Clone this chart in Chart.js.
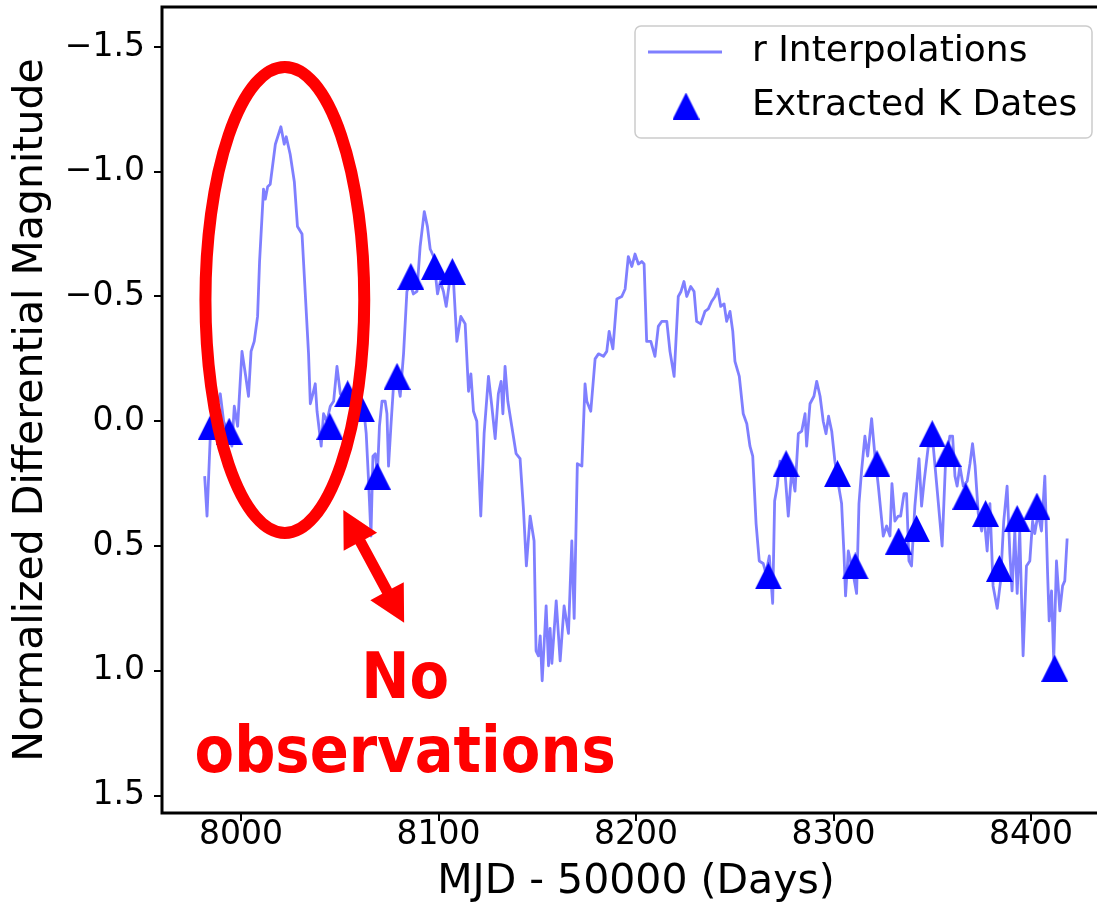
<!DOCTYPE html>
<html>
<head>
<meta charset="utf-8">
<title>r Interpolations vs Extracted K Dates</title>
<script src="https://cdn.jsdelivr.net/npm/chart.js@4.4.0/dist/chart.umd.min.js"></script>
<style>
  html, body { margin: 0; padding: 0; background: #fff; overflow: hidden; }
  #wrap { width: 1097px; height: 905px; overflow: hidden; position: relative; }
  canvas { display: block; }
</style>
</head>
<body>
<div id="wrap"><canvas id="chart" width="1115" height="905"></canvas></div>
<script>
// Datos
const lineDays = [
  7981.6, 7982.8, 7984.5, 7989.5, 7991.2, 7993.7, 7995.4, 7996.6, 7998.3, 8000.5,
  8002.2, 8003.8, 8005.1, 8006.7, 8008.4, 8009.4, 8011.4, 8012.3, 8013.5, 8014.8,
  8017.4, 8020.2, 8021.9, 8022.9, 8024.9, 8027.0, 8028.6, 8030.9, 8032.0, 8034.2,
  8035.1, 8036.4, 8037.6, 8038.5, 8040.6, 8041.8, 8043.5, 8045.2, 8046.9, 8048.6,
  8050.3, 8053.6, 8057.8, 8062.0, 8063.4, 8064.6, 8065.8, 8066.8, 8068.0, 8069.1,
  8070.1, 8071.4, 8073.0, 8073.9, 8074.7, 8075.9, 8077.2, 8078.9, 8080.6, 8082.3,
  8084.0, 8085.7, 8087.3, 8089.1, 8090.7, 8092.8, 8094.4, 8095.8, 8097.5, 8099.5,
  8100.9, 8102.5, 8103.9, 8105.6, 8107.6, 8109.3, 8111.3, 8113.5, 8115.2, 8116.4,
  8117.7, 8119.4, 8121.4, 8123.1, 8125.3, 8127.0, 8128.7, 8130.3, 8131.7, 8132.6,
  8133.7, 8135.1, 8137.1, 8139.3, 8141.3, 8143.0, 8144.5, 8146.4, 8148.4, 8149.4,
  8150.6, 8151.5, 8152.5, 8154.5, 8155.7, 8156.5, 8157.4, 8159.6, 8161.6, 8163.6,
  8165.8, 8167.5, 8168.7, 8170.3, 8172.6, 8174.2, 8175.1, 8177.1, 8179.3, 8181.0,
  8183.5, 8185.2, 8186.4, 8188.3, 8190.3, 8192.8, 8194.5, 8196.1, 8197.9, 8199.5,
  8201.2, 8202.9, 8204.1, 8205.4, 8207.5, 8209.6, 8211.3, 8213.0, 8215.6, 8217.2,
  8219.3, 8221.4, 8222.8, 8224.3, 8225.7, 8227.7, 8229.4, 8230.7, 8232.8, 8234.9,
  8236.6, 8238.3, 8240.0, 8241.4, 8242.9, 8244.6, 8245.9, 8247.6, 8249.0, 8250.1,
  8252.3, 8254.3, 8256.1, 8257.7, 8259.1, 8260.8, 8262.4, 8264.4, 8265.8, 8267.5,
  8269.2, 8270.2, 8271.5, 8272.9, 8275.4, 8277.1, 8278.8, 8280.5, 8282.2, 8283.9,
  8285.6, 8286.4, 8288.1, 8290.1, 8291.5, 8293.2, 8294.8, 8296.2, 8297.5, 8299.1,
  8300.7, 8302.4, 8304.1, 8305.3, 8306.1, 8307.5, 8309.7, 8311.7, 8312.9, 8314.2,
  8315.9, 8317.3, 8319.3, 8321.0, 8322.7, 8325.2, 8326.9, 8328.6, 8329.6, 8331.1,
  8332.8, 8334.0, 8335.7, 8337.0, 8338.2, 8339.5, 8341.2, 8343.3, 8344.6, 8345.9,
  8348.0, 8350.5, 8353.0, 8355.0, 8356.7, 8358.9, 8360.3, 8361.5, 8362.6, 8364.0,
  8365.7, 8367.7, 8369.1, 8370.4, 8371.7, 8373.3, 8375.0, 8376.1, 8377.8, 8379.2,
  8380.8, 8382.9, 8384.6, 8386.2, 8387.9, 8389.3, 8390.4, 8391.8, 8393.0, 8394.3,
  8396.0, 8397.7, 8399.4, 8400.8, 8401.9, 8403.6, 8405.3, 8407.0, 8408.4, 8409.2,
  8410.4, 8411.5, 8412.9, 8414.6, 8416.0, 8417.1, 8418.3
];
const lineMags = [
  0.22, 0.38, 0.05, -0.11, 0.00, 0.05, 0.10, -0.06, 0.02, -0.28,
  -0.19, -0.10, -0.28, -0.32, -0.42, -0.64, -0.93, -0.89, -0.94, -0.95,
  -1.11, -1.18, -1.11, -1.14, -1.07, -0.96, -0.78, -0.75, -0.59, -0.27,
  -0.07, -0.11, -0.15, -0.04, 0.10, -0.03, 0.00, -0.06, -0.08, -0.22,
  -0.11, -0.08, -0.04, -0.06, 0.05, 0.24, 0.46, 0.14, 0.13, 0.21,
  0.02, -0.08, -0.08, -0.03, 0.18, 0.02, -0.14, -0.18, -0.10, -0.27,
  -0.52, -0.55, -0.51, -0.52, -0.70, -0.84, -0.78, -0.69, -0.66, -0.51,
  -0.56, -0.52, -0.46, -0.56, -0.56, -0.32, -0.42, -0.39, -0.12, -0.19,
  -0.04, 0.00, 0.38, 0.05, -0.18, -0.06, 0.07, -0.11, -0.16, -0.03,
  -0.22, -0.08, 0.02, 0.13, 0.15, 0.35, 0.58, 0.38, 0.48, 0.92,
  0.94, 0.86, 1.04, 0.74, 0.98, 0.83, 0.97, 0.72, 0.96, 0.74,
  0.85, 0.48, 0.79, 0.17, 0.18, -0.15, -0.08, -0.04, -0.25, -0.27,
  -0.26, -0.28, -0.36, -0.29, -0.49, -0.50, -0.53, -0.66, -0.62, -0.67,
  -0.63, -0.64, -0.63, -0.32, -0.32, -0.26, -0.38, -0.40, -0.40, -0.28,
  -0.18, -0.50, -0.52, -0.56, -0.50, -0.54, -0.52, -0.40, -0.39, -0.44,
  -0.45, -0.48, -0.50, -0.53, -0.46, -0.47, -0.40, -0.44, -0.36, -0.24,
  -0.18, -0.03, 0.01, 0.10, 0.14, 0.41, 0.56, 0.57, 0.61, 0.54,
  0.73, 0.32, 0.26, 0.16, 0.20, 0.38, 0.20, 0.28, 0.05, 0.04,
  -0.03, 0.10, -0.07, -0.10, -0.16, -0.10, 0.00, 0.05, -0.02, 0.04,
  0.16, 0.25, 0.33, 0.53, 0.70, 0.52, 0.60, 0.69, 0.33, 0.20,
  0.06, 0.14, -0.01, 0.14, 0.26, 0.46, 0.42, 0.46, 0.25, 0.40,
  0.38, 0.38, 0.29, 0.29, 0.56, 0.58, 0.34, 0.15, 0.34, 0.24,
  0.10, 0.10, 0.32, 0.50, 0.17, 0.06, 0.06, 0.22, 0.26, 0.18,
  0.26, 0.24, 0.17, 0.09, 0.18, 0.37, 0.44, 0.37, 0.52, 0.33,
  0.66, 0.75, 0.64, 0.40, 0.26, 0.53, 0.68, 0.44, 0.69, 0.44,
  0.94, 0.58, 0.56, 0.40, 0.45, 0.37, 0.44, 0.22, 0.61, 0.80,
  0.68, 0.96, 0.56, 0.76, 0.66, 0.64, 0.47
];

const kDays = [
  7985, 7994, 8045, 8054, 8061, 8069, 8079, 8086, 8098, 8107,
  8267, 8276, 8302, 8311, 8322, 8333, 8342, 8350, 8358, 8367,
  8377, 8384, 8393, 8403, 8412
];
const kMags = [
  0.02, 0.04, 0.02, -0.11, -0.05, 0.22, -0.18, -0.58, -0.62, -0.60,
  0.62, 0.17, 0.21, 0.58, 0.17, 0.48, 0.43, 0.05, 0.13, 0.30,
  0.37, 0.59, 0.39, 0.34, 0.99
];

const xTicks = [8000, 8100, 8200, 8300, 8400];
const yTicks = [-1.5, -1.0, -0.5, 0.0, 0.5, 1.0, 1.5];

const X_MIN = 7960;
const X_MAX = 8440;
const Y_MIN = -1.66;
const Y_MAX = 1.57;

const LINE_COLOR = "rgba(0, 0, 255, 0.5)";
const MARKER_COLOR = "#0000ff";
const ANNOT_COLOR = "#ff0000";
const FONT = "DejaVu Sans";

// Triángulo tipo matplotlib '^' (ancho = alto, centrado en la caja)
function makeTriangle(size, color) {
  const c = document.createElement("canvas");
  c.width = size;
  c.height = size;
  const g = c.getContext("2d");
  g.fillStyle = color;
  g.beginPath();
  g.moveTo(size / 2, 0);
  g.lineTo(size, size);
  g.lineTo(0, size);
  g.closePath();
  g.fill();
  return c;
}
const triangle = makeTriangle(27, MARKER_COLOR);

function drawDoubleArrow(ctx, x1, y1, x2, y2, shaft, headLen, headW) {
  const dx = x2 - x1, dy = y2 - y1;
  const len = Math.hypot(dx, dy);
  const ux = dx / len, uy = dy / len;
  const nx = -uy, ny = ux;
  const p = (bx, by, along, side) => [bx + ux * along + nx * side, by + uy * along + ny * side];
  const pts = [
    [x1, y1],
    p(x1, y1, headLen, headW / 2),
    p(x1, y1, headLen, shaft / 2),
    p(x2, y2, -headLen, shaft / 2),
    p(x2, y2, -headLen, headW / 2),
    [x2, y2],
    p(x2, y2, -headLen, -headW / 2),
    p(x2, y2, -headLen, -shaft / 2),
    p(x1, y1, headLen, -shaft / 2),
    p(x1, y1, headLen, -headW / 2),
  ];
  ctx.beginPath();
  ctx.moveTo(pts[0][0], pts[0][1]);
  for (let i = 1; i < pts.length; i++) ctx.lineTo(pts[i][0], pts[i][1]);
  ctx.closePath();
  ctx.fill();
}

// Marco, anotaciones en rojo y leyenda dentro del área
const overlay = {
  id: "overlay",
  afterDatasetsDraw(chart) {
    const { ctx, chartArea: a, scales: { x, y } } = chart;
    ctx.save();

    // marco
    ctx.strokeStyle = "#000";
    ctx.lineWidth = 3;
    ctx.strokeRect(a.left, a.top, a.right - a.left, a.bottom - a.top);

    // elipse
    const cx = x.getPixelForValue(8022.2);
    const cy = y.getPixelForValue(-0.486);
    const rx = x.getPixelForValue(8022.2 + 40.2) - cx;
    const ry = Math.abs(y.getPixelForValue(-0.486 + 0.934) - cy);
    ctx.strokeStyle = ANNOT_COLOR;
    ctx.lineWidth = 12;
    ctx.beginPath();
    ctx.ellipse(cx, cy, rx, ry, 0, 0, Math.PI * 2);
    ctx.stroke();

    // flecha doble
    ctx.fillStyle = ANNOT_COLOR;
    drawDoubleArrow(
      ctx,
      x.getPixelForValue(8051.8), y.getPixelForValue(0.356),
      x.getPixelForValue(8082.6), y.getPixelForValue(0.808),
      11, 36, 38
    );

    // texto
    const tx = x.getPixelForValue(8083.1);
    ctx.font = "bold 64px '" + FONT + "'";
    ctx.textAlign = "center";
    ctx.textBaseline = "alphabetic";
    [["No", 1.108], ["observations", 1.404]].forEach(([t, v]) => {
      ctx.save();
      ctx.translate(tx, y.getPixelForValue(v));
      ctx.scale(0.9, 1);
      ctx.fillText(t, 0, 0);
      ctx.restore();
    });

    // leyenda
    const bw = 457, bh = 112;
    const bx = a.right - 18 - bw;
    const by = a.top + 19;
    ctx.beginPath();
    ctx.roundRect(bx, by, bw, bh, 6);
    ctx.fillStyle = "rgba(255,255,255,0.8)";
    ctx.fill();
    ctx.strokeStyle = "#cccccc";
    ctx.lineWidth = 1.5;
    ctx.stroke();

    const row1 = by + 26, row2 = by + 80;
    ctx.strokeStyle = LINE_COLOR;
    ctx.lineWidth = 2.8;
    ctx.beginPath();
    ctx.moveTo(bx + 13, row1);
    ctx.lineTo(bx + 87, row1);
    ctx.stroke();
    ctx.drawImage(triangle, bx + 51 - triangle.width / 2, row2 - triangle.height / 2);

    ctx.fillStyle = "#000";
    ctx.font = "36px '" + FONT + "'";
    ctx.textAlign = "left";
    ctx.textBaseline = "middle";
    ctx.fillText(chart.data.datasets[0].label, bx + 117, row1);
    ctx.fillText(chart.data.datasets[1].label, bx + 117, row2);

    ctx.restore();
  },
};

const tickGrid = {
  display: true,
  drawOnChartArea: false,
  drawTicks: true,
  tickLength: 8,
  color: "#000",
  lineWidth: 2,
};

new Chart(document.getElementById("chart"), {
  type: "line",
  data: {
    datasets: [
      {
        label: "r Interpolations",
        data: lineDays.map((d, i) => ({ x: d, y: lineMags[i] })),
        borderColor: LINE_COLOR,
        borderWidth: 2.8,
        borderJoinStyle: "round",
        pointRadius: 0,
        tension: 0,
        fill: false,
        order: 2,
      },
      {
        label: "Extracted K Dates",
        data: kDays.map((d, i) => ({ x: d, y: kMags[i] })),
        showLine: false,
        pointStyle: triangle,
        pointRadius: 13,
        backgroundColor: MARKER_COLOR,
        borderColor: MARKER_COLOR,
        order: 1,
      },
    ],
  },
  options: {
    responsive: false,
    devicePixelRatio: 1,
    animation: false,
    events: [],
    layout: { autoPadding: false, padding: { top: 7, right: 5, left: 0, bottom: 0 } },
    plugins: {
      legend: { display: false },
      tooltip: { enabled: false },
    },
    scales: {
      x: {
        type: "linear",
        min: X_MIN,
        max: X_MAX,
        afterBuildTicks: (s) => { s.ticks = xTicks.map((v) => ({ value: v })); },
        afterFit: (s) => {
          s.height = 92;
          s.paddingLeft = 0;
          s.paddingRight = 0;
        },
        grid: tickGrid,
        border: { display: false },
        ticks: {
          color: "#000",
          font: { family: FONT, size: 33, lineHeight: 0.9 },
          padding: 0,
          maxRotation: 0,
          autoSkip: false,
          callback: (v) => String(v),
        },
        title: {
          display: true,
          text: "MJD - 50000 (Days)",
          color: "#000",
          font: { family: FONT, size: 41, lineHeight: 1.1 },
          padding: { top: 0, bottom: 0 },
        },
      },
      y: {
        type: "linear",
        reverse: true,
        min: Y_MIN,
        max: Y_MAX,
        afterBuildTicks: (s) => { s.ticks = yTicks.map((v) => ({ value: v })); },
        afterFit: (s) => {
          s.width = 162;
          s.paddingTop = 0;
          s.paddingBottom = 0;
        },
        grid: tickGrid,
        border: { display: false },
        ticks: {
          color: "#000",
          font: { family: FONT, size: 33 },
          padding: 9,
          autoSkip: false,
          callback: (v) => v.toFixed(1).replace("-", "\u2212"),
        },
        title: {
          display: true,
          text: "Normalized Differential Magnitude",
          color: "#000",
          font: { family: FONT, size: 41, lineHeight: 1.2 },
          padding: { top: 7, bottom: 0 },
        },
      },
    },
  },
  plugins: [overlay],
});
</script>
</body>
</html>
